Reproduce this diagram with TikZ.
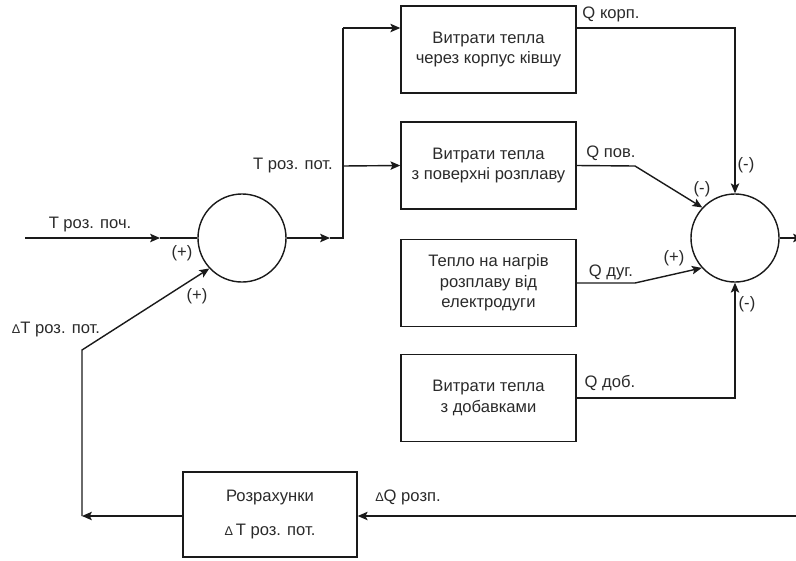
\documentclass[tikz,border=0pt]{standalone}
\usepackage{fontspec}
\setmainfont{Liberation Sans}
\usepackage{tikz}
\usetikzlibrary{positioning,arrows.meta,calc}
\definecolor{LineDark}{HTML}{1A1A1A}
\definecolor{TextDark}{HTML}{2A2A2A}
\newcommand{\dlt}{{\fontsize{9}{9}\selectfont Δ}}
\begin{document}
\begin{tikzpicture}[x=0.025cm, y=-0.025cm,
    every node/.style={font=\fontsize{11.8}{14.5}\selectfont, text=TextDark},
    block/.style={draw=LineDark, line width=1pt, minimum width=4.375cm, minimum height=2.175cm, align=center, inner sep=0pt},
    summer/.style={draw=LineDark, line width=1pt, circle, minimum size=2.2cm, inner sep=0pt},
    flow/.style={draw=LineDark, line width=1pt, -{Stealth[length=7pt,width=6pt,inset=1.5pt]}},
    wire/.style={draw=LineDark, line width=1pt}]
      \useasboundingbox (0,0) rectangle (796,560);
      % summing junctions
      \node[summer] (sumIn) at (242,238) {};
      \node[summer] (sumQ)  at (735,238) {};
      % blocks
      \node[block] (lossBody) at (488.5,49.5)  {Витрати тепла\\через корпус ківшу};
      \node[block] (lossSurf) at (488.5,165.5) {Витрати тепла\\з поверхні розплаву};
      \node[block] (heatArc)  at (488.5,283)   {Тепло на нагрів\\розплаву від\\електродуги};
      \node[block] (lossAdd)  at (488.5,398)   {Витрати тепла\\з добавками};
      \node[block, minimum width=4.35cm, minimum height=2.125cm] (calcBlock) at (270,514.5) {Розрахунки\\[9pt]\dlt\,T роз. пот.};
      % helper points
      \coordinate (start)  at (25,238);
      \coordinate (inMid)  at (160,238);
      \coordinate (outMid) at (330,238);
      \coordinate (fork)   at (343,238);
      \coordinate (forkT)  at (343,28);
      \coordinate (forkM)  at (343,166);
      \coordinate (bendP)  at (635,166);
      \coordinate (bendA)  at (635,283);
      \coordinate (outR)   at (803,238);
      \coordinate (backR)  at (800,516);
      \coordinate (backL)  at (82,516);
      \coordinate (backU)  at (82,350);
      % forward path
      \draw[flow] (start) -- (inMid);
      \draw[wire] (inMid) -- (sumIn.west);
      \draw[flow] (sumIn.east) -- (outMid);
      \draw[wire] (outMid) -- (fork) -- (forkT);
      \draw[flow] (forkT) -- (forkT -| lossBody.west);
      \draw[flow] (forkM) -- (lossSurf.west);
      % heat flows
      \draw[flow] (lossBody.east |- forkT) -- (sumQ.north |- forkT) -- (sumQ.north);
      \draw[flow] (lossSurf.east) -- (bendP) -- (sumQ.137);
      \draw[flow] (heatArc.east) -- (bendA) -- (sumQ.222);
      \draw[flow] (lossAdd.east) -- (lossAdd.east -| sumQ.south) -- (sumQ.south);
      \draw[flow] (sumQ.east) -- (outR);
      % feedback
      \draw[flow] (backR) -- (backR -| calcBlock.east);
      \draw[flow] (calcBlock.west |- backL) -- (backL);
      \draw[flow] (backL) -- (backU) -- (sumIn.223);
      % labels
      \node (lblIn)   at (90,225)  {T роз. поч.};
      \node (sgnIn)   at (182,253) {(+)};
      \node (sgnFb)   at (197,296) {(+)};
      \node (lblFb)   at (56,330)  {\dlt T роз. пот.};
      \node (lblOut)  at (293,166) {T роз. пот.};
      \node (lblBody) at (611,14)  {Q корп.};
      \node (sgnBody) at (746,165) {(-)};
      \node (lblSurf) at (611,153) {Q пов.};
      \node (sgnSurf) at (702,189) {(-)};
      \node (lblArc)  at (611,272) {Q дуг.};
      \node (sgnArc)  at (674,258) {(+)};
      \node (sgnAdd)  at (747,304) {(-)};
      \node (lblAdd)  at (610,383) {Q доб.};
      \node (lblBack) at (408,497) {\dlt Q розп.};
    \end{tikzpicture}
\end{document}
